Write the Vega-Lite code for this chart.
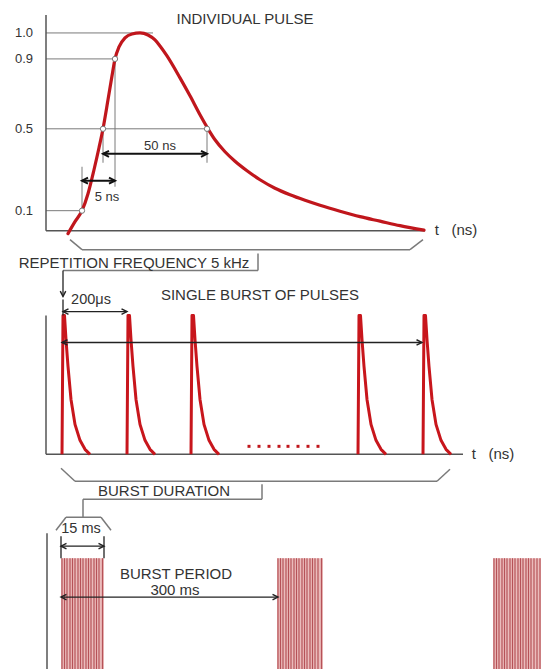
{
  "$schema": "https://vega.github.io/schema/vega-lite/v6.json",
  "width": 541,
  "height": 670,
  "autosize": {"type": "fit", "contains": "padding"},
  "padding": 0,
  "background": "white",
  "config": {"view": {"stroke": null}},
  "datasets": {
    "axes": [
      {"x": 46, "y": 15, "x2": 46, "y2": 231},
      {"x": 46, "y": 231, "x2": 425, "y2": 231},
      {"x": 46, "y": 316, "x2": 46, "y2": 455},
      {"x": 46, "y": 455, "x2": 463, "y2": 455},
      {"x": 47, "y": 534, "x2": 47, "y2": 670}
    ],
    "guides": [
      {"x": 46, "y": 33, "x2": 153, "y2": 33},
      {"x": 46, "y": 59, "x2": 115, "y2": 59},
      {"x": 46, "y": 129, "x2": 207, "y2": 129},
      {"x": 46, "y": 211, "x2": 82, "y2": 211},
      {"x": 115, "y": 59, "x2": 115, "y2": 187},
      {"x": 103, "y": 129, "x2": 103, "y2": 163},
      {"x": 82, "y": 167, "x2": 82, "y2": 211},
      {"x": 207, "y": 129, "x2": 207, "y2": 163}
    ],
    "brackets": [
      {"x": 70, "y": 240, "x2": 82, "y2": 250},
      {"x": 82, "y": 250, "x2": 410, "y2": 250},
      {"x": 410, "y": 250, "x2": 423, "y2": 240},
      {"x": 63, "y": 271, "x2": 258, "y2": 271},
      {"x": 258, "y": 254, "x2": 258, "y2": 271},
      {"x": 61, "y": 469, "x2": 75, "y2": 482},
      {"x": 75, "y": 482, "x2": 437, "y2": 482},
      {"x": 437, "y": 482, "x2": 450, "y2": 470},
      {"x": 262, "y": 485, "x2": 262, "y2": 500},
      {"x": 83, "y": 500, "x2": 262, "y2": 500},
      {"x": 83, "y": 500, "x2": 83, "y2": 518},
      {"x": 56, "y": 531, "x2": 66, "y2": 518},
      {"x": 66, "y": 518, "x2": 101, "y2": 518},
      {"x": 101, "y": 518, "x2": 111, "y2": 531}
    ],
    "arrowsThick": [
      {"x": 103, "y": 154, "x2": 207, "y2": 154},
      {"x": 82, "y": 181, "x2": 115, "y2": 181}
    ],
    "arrowsThin": [
      {"x": 63, "y": 312, "x2": 127, "y2": 312},
      {"x": 63, "y": 300, "x2": 63, "y2": 316},
      {"x": 63, "y": 271, "x2": 63, "y2": 297},
      {"x": 62, "y": 343, "x2": 422, "y2": 343},
      {"x": 61, "y": 547, "x2": 104, "y2": 547},
      {"x": 61, "y": 537, "x2": 61, "y2": 559},
      {"x": 104, "y": 537, "x2": 104, "y2": 559},
      {"x": 61, "y": 598, "x2": 278, "y2": 598}
    ],
    "headsThick": [
      {"x": 103, "y": 154, "dir": "left"},
      {"x": 207, "y": 154, "dir": "right"},
      {"x": 82, "y": 181, "dir": "left"},
      {"x": 115, "y": 181, "dir": "right"}
    ],
    "headsThin": [
      {"x": 63, "y": 312, "dir": "left"},
      {"x": 127, "y": 312, "dir": "right"},
      {"x": 63, "y": 297, "dir": "down"},
      {"x": 62, "y": 343, "dir": "left"},
      {"x": 422, "y": 343, "dir": "right"},
      {"x": 61, "y": 547, "dir": "left"},
      {"x": 104, "y": 547, "dir": "right"},
      {"x": 61, "y": 598, "dir": "left"},
      {"x": 278, "y": 598, "dir": "right"}
    ],
    "markers": [
      {"x": 82, "y": 211},
      {"x": 103, "y": 129},
      {"x": 115, "y": 59},
      {"x": 207, "y": 129}
    ],
    "pulse": [
      {"x": 68, "y": 234}, {"x": 75, "y": 222}, {"x": 82, "y": 211}, {"x": 88, "y": 194},
      {"x": 94, "y": 170}, {"x": 99, "y": 148}, {"x": 103, "y": 129}, {"x": 108, "y": 100},
      {"x": 112, "y": 76}, {"x": 115, "y": 59}, {"x": 119, "y": 47}, {"x": 125, "y": 38},
      {"x": 132, "y": 34}, {"x": 140, "y": 33}, {"x": 148, "y": 35}, {"x": 155, "y": 40},
      {"x": 160, "y": 46}, {"x": 167, "y": 56}, {"x": 180, "y": 78}, {"x": 190, "y": 96},
      {"x": 200, "y": 115}, {"x": 208, "y": 129}, {"x": 215, "y": 140}, {"x": 225, "y": 152},
      {"x": 235, "y": 161.5}, {"x": 247, "y": 171}, {"x": 260, "y": 180}, {"x": 275, "y": 188.5},
      {"x": 290, "y": 195}, {"x": 305, "y": 200.5}, {"x": 320, "y": 205.5}, {"x": 340, "y": 211.5},
      {"x": 360, "y": 217}, {"x": 380, "y": 221.5}, {"x": 400, "y": 226}, {"x": 424, "y": 230.5}
    ],
    "burst": [
      {"p": 1, "x": 62, "y": 455}, {"p": 1, "x": 63, "y": 316}, {"p": 1, "x": 64.5, "y": 316}, {"p": 1, "x": 66, "y": 340}, {"p": 1, "x": 68, "y": 367}, {"p": 1, "x": 71, "y": 400}, {"p": 1, "x": 75, "y": 425}, {"p": 1, "x": 80, "y": 441}, {"p": 1, "x": 85, "y": 450}, {"p": 1, "x": 90, "y": 455},
      {"p": 2, "x": 127, "y": 455}, {"p": 2, "x": 128, "y": 316}, {"p": 2, "x": 129.5, "y": 316}, {"p": 2, "x": 131, "y": 340}, {"p": 2, "x": 133, "y": 367}, {"p": 2, "x": 136, "y": 400}, {"p": 2, "x": 140, "y": 425}, {"p": 2, "x": 145, "y": 441}, {"p": 2, "x": 150, "y": 450}, {"p": 2, "x": 155, "y": 455},
      {"p": 3, "x": 191, "y": 455}, {"p": 3, "x": 192, "y": 316}, {"p": 3, "x": 193.5, "y": 316}, {"p": 3, "x": 195, "y": 340}, {"p": 3, "x": 197, "y": 367}, {"p": 3, "x": 200, "y": 400}, {"p": 3, "x": 204, "y": 425}, {"p": 3, "x": 209, "y": 441}, {"p": 3, "x": 214, "y": 450}, {"p": 3, "x": 219, "y": 455},
      {"p": 4, "x": 358, "y": 455}, {"p": 4, "x": 359, "y": 316}, {"p": 4, "x": 360.5, "y": 316}, {"p": 4, "x": 362, "y": 340}, {"p": 4, "x": 364, "y": 367}, {"p": 4, "x": 367, "y": 400}, {"p": 4, "x": 371, "y": 425}, {"p": 4, "x": 376, "y": 441}, {"p": 4, "x": 381, "y": 450}, {"p": 4, "x": 386, "y": 455},
      {"p": 5, "x": 423, "y": 455}, {"p": 5, "x": 424, "y": 316}, {"p": 5, "x": 425.5, "y": 316}, {"p": 5, "x": 427, "y": 340}, {"p": 5, "x": 429, "y": 367}, {"p": 5, "x": 432, "y": 400}, {"p": 5, "x": 436, "y": 425}, {"p": 5, "x": 441, "y": 441}, {"p": 5, "x": 446, "y": 450}, {"p": 5, "x": 451, "y": 455}
    ],
    "dots": [
      {"x": 249, "y": 447}, {"x": 259, "y": 447}, {"x": 269, "y": 447}, {"x": 279, "y": 447},
      {"x": 288, "y": 447}, {"x": 298, "y": 447}, {"x": 308, "y": 447}, {"x": 318, "y": 447}
    ],
    "blocks": [
      {"x": 61, "x2": 104, "y": 559, "y2": 670},
      {"x": 277, "x2": 323, "y": 559, "y2": 670},
      {"x": 493, "x2": 541, "y": 559, "y2": 670}
    ],
    "stripes": [
      {"x": 62, "y": 559, "y2": 670}, {"x": 64.5, "y": 559, "y2": 670}, {"x": 67, "y": 559, "y2": 670}, {"x": 70, "y": 559, "y2": 670},
      {"x": 72.5, "y": 559, "y2": 670}, {"x": 75, "y": 559, "y2": 670}, {"x": 78, "y": 559, "y2": 670}, {"x": 80.5, "y": 559, "y2": 670},
      {"x": 83, "y": 559, "y2": 670}, {"x": 86, "y": 559, "y2": 670}, {"x": 88.5, "y": 559, "y2": 670}, {"x": 91, "y": 559, "y2": 670},
      {"x": 94, "y": 559, "y2": 670}, {"x": 96.5, "y": 559, "y2": 670}, {"x": 99, "y": 559, "y2": 670}, {"x": 102.5, "y": 559, "y2": 670},
      {"x": 278, "y": 559, "y2": 670}, {"x": 280.5, "y": 559, "y2": 670}, {"x": 283, "y": 559, "y2": 670}, {"x": 286, "y": 559, "y2": 670},
      {"x": 288.5, "y": 559, "y2": 670}, {"x": 291, "y": 559, "y2": 670}, {"x": 294, "y": 559, "y2": 670}, {"x": 296.5, "y": 559, "y2": 670},
      {"x": 299, "y": 559, "y2": 670}, {"x": 302, "y": 559, "y2": 670}, {"x": 304.5, "y": 559, "y2": 670}, {"x": 307, "y": 559, "y2": 670},
      {"x": 310, "y": 559, "y2": 670}, {"x": 312.5, "y": 559, "y2": 670}, {"x": 315, "y": 559, "y2": 670}, {"x": 318, "y": 559, "y2": 670},
      {"x": 321.5, "y": 559, "y2": 670},
      {"x": 494, "y": 559, "y2": 670}, {"x": 496.5, "y": 559, "y2": 670}, {"x": 499, "y": 559, "y2": 670}, {"x": 502, "y": 559, "y2": 670},
      {"x": 504.5, "y": 559, "y2": 670}, {"x": 507, "y": 559, "y2": 670}, {"x": 510, "y": 559, "y2": 670}, {"x": 512.5, "y": 559, "y2": 670},
      {"x": 515, "y": 559, "y2": 670}, {"x": 518, "y": 559, "y2": 670}, {"x": 520.5, "y": 559, "y2": 670}, {"x": 523, "y": 559, "y2": 670},
      {"x": 526, "y": 559, "y2": 670}, {"x": 528.5, "y": 559, "y2": 670}, {"x": 531, "y": 559, "y2": 670}, {"x": 534, "y": 559, "y2": 670},
      {"x": 537, "y": 559, "y2": 670}, {"x": 540, "y": 559, "y2": 670}
    ],
    "titles": [
      {"x": 245, "y": 19, "text": "INDIVIDUAL PULSE"},
      {"x": 134, "y": 263, "text": "REPETITION FREQUENCY 5 kHz"},
      {"x": 260, "y": 295, "text": "SINGLE BURST OF PULSES"},
      {"x": 164, "y": 492, "text": "BURST DURATION"},
      {"x": 176, "y": 575, "text": "BURST PERIOD"},
      {"x": 175, "y": 591, "text": "300 ms"}
    ],
    "labels": [
      {"x": 24, "y": 33, "text": "1.0"},
      {"x": 24, "y": 59, "text": "0.9"},
      {"x": 24, "y": 129, "text": "0.5"},
      {"x": 24, "y": 211, "text": "0.1"},
      {"x": 160, "y": 146, "text": "50 ns"},
      {"x": 107, "y": 197, "text": "5 ns"}
    ],
    "labels2": [
      {"x": 91, "y": 300, "text": "200μs"},
      {"x": 81, "y": 530, "text": "15 ms"}
    ],
    "units": [
      {"x": 456, "y": 230, "text": "t\u00a0\u00a0\u00a0(ns)"},
      {"x": 493, "y": 455, "text": "t\u00a0\u00a0\u00a0(ns)"}
    ]
  },
  "encoding": {
    "x": {"field": "x", "type": "quantitative", "scale": {"domain": [0, 541], "nice": false, "zero": false}, "axis": null},
    "y": {"field": "y", "type": "quantitative", "scale": {"domain": [0, 670], "reverse": true, "nice": false, "zero": false}, "axis": null}
  },
  "layer": [
    {
      "data": {"name": "blocks"},
      "mark": {"type": "rect", "fill": "#ebbcbc", "stroke": null},
      "encoding": {"x2": {"field": "x2"}, "y2": {"field": "y2"}}
    },
    {
      "data": {"name": "stripes"},
      "mark": {"type": "rule", "stroke": "#b65258", "strokeWidth": 1.2},
      "encoding": {"y2": {"field": "y2"}}
    },
    {
      "data": {"name": "guides"},
      "mark": {"type": "rule", "stroke": "#7a7a7a", "strokeWidth": 1},
      "encoding": {"x2": {"field": "x2"}, "y2": {"field": "y2"}}
    },
    {
      "data": {"name": "axes"},
      "mark": {"type": "rule", "stroke": "#555555", "strokeWidth": 1.5},
      "encoding": {"x2": {"field": "x2"}, "y2": {"field": "y2"}}
    },
    {
      "data": {"name": "brackets"},
      "mark": {"type": "rule", "stroke": "#7a7a7a", "strokeWidth": 1.5},
      "encoding": {"x2": {"field": "x2"}, "y2": {"field": "y2"}}
    },
    {
      "data": {"name": "pulse"},
      "mark": {"type": "line", "stroke": "#c0161c", "strokeWidth": 3.2, "interpolate": "monotone", "strokeCap": "round"},
      "encoding": {}
    },
    {
      "data": {"name": "burst"},
      "mark": {"type": "line", "stroke": "#c8161c", "strokeWidth": 3, "strokeJoin": "round"},
      "encoding": {"detail": {"field": "p"}}
    },
    {
      "data": {"name": "dots"},
      "mark": {"type": "point", "shape": "square", "filled": true, "color": "#c0161c", "size": 9, "opacity": 1},
      "encoding": {}
    },
    {
      "data": {"name": "arrowsThick"},
      "mark": {"type": "rule", "stroke": "#111111", "strokeWidth": 2.2},
      "encoding": {"x2": {"field": "x2"}, "y2": {"field": "y2"}}
    },
    {
      "data": {"name": "arrowsThin"},
      "mark": {"type": "rule", "stroke": "#222222", "strokeWidth": 1.3},
      "encoding": {"x2": {"field": "x2"}, "y2": {"field": "y2"}}
    },
    {
      "data": {"name": "headsThick"},
      "mark": {"type": "point", "filled": false, "stroke": "#111111", "strokeWidth": 2, "size": 36, "opacity": 1},
      "encoding": {
        "shape": {"field": "dir", "type": "nominal", "legend": null,
          "scale": {"domain": ["left", "right", "down"], "range": ["M2,-1L0,0L2,1", "M-2,-1L0,0L-2,1", "M-1,-2L0,0L1,-2"]}}
      }
    },
    {
      "data": {"name": "headsThin"},
      "mark": {"type": "point", "filled": false, "stroke": "#222222", "strokeWidth": 1.4, "size": 30, "opacity": 1},
      "encoding": {
        "shape": {"field": "dir", "type": "nominal", "legend": null,
          "scale": {"domain": ["left", "right", "down"], "range": ["M2,-1L0,0L2,1", "M-2,-1L0,0L-2,1", "M-1,-2L0,0L1,-2"]}}
      }
    },
    {
      "data": {"name": "markers"},
      "mark": {"type": "point", "shape": "circle", "filled": true, "fill": "white", "stroke": "#777777", "strokeWidth": 1, "size": 28, "opacity": 1},
      "encoding": {}
    },
    {
      "data": {"name": "titles"},
      "mark": {"type": "text", "font": "Liberation Sans", "fontSize": 15, "color": "#333333", "align": "center", "baseline": "middle"},
      "encoding": {"text": {"field": "text"}}
    },
    {
      "data": {"name": "labels"},
      "mark": {"type": "text", "font": "Liberation Sans", "fontSize": 13, "color": "#333333", "align": "center", "baseline": "middle"},
      "encoding": {"text": {"field": "text"}}
    },
    {
      "data": {"name": "labels2"},
      "mark": {"type": "text", "font": "Liberation Sans", "fontSize": 14.5, "color": "#333333", "align": "center", "baseline": "middle"},
      "encoding": {"text": {"field": "text"}}
    },
    {
      "data": {"name": "units"},
      "mark": {"type": "text", "font": "Liberation Sans", "fontSize": 15, "color": "#333333", "align": "center", "baseline": "middle"},
      "encoding": {"text": {"field": "text"}}
    }
  ]
}
